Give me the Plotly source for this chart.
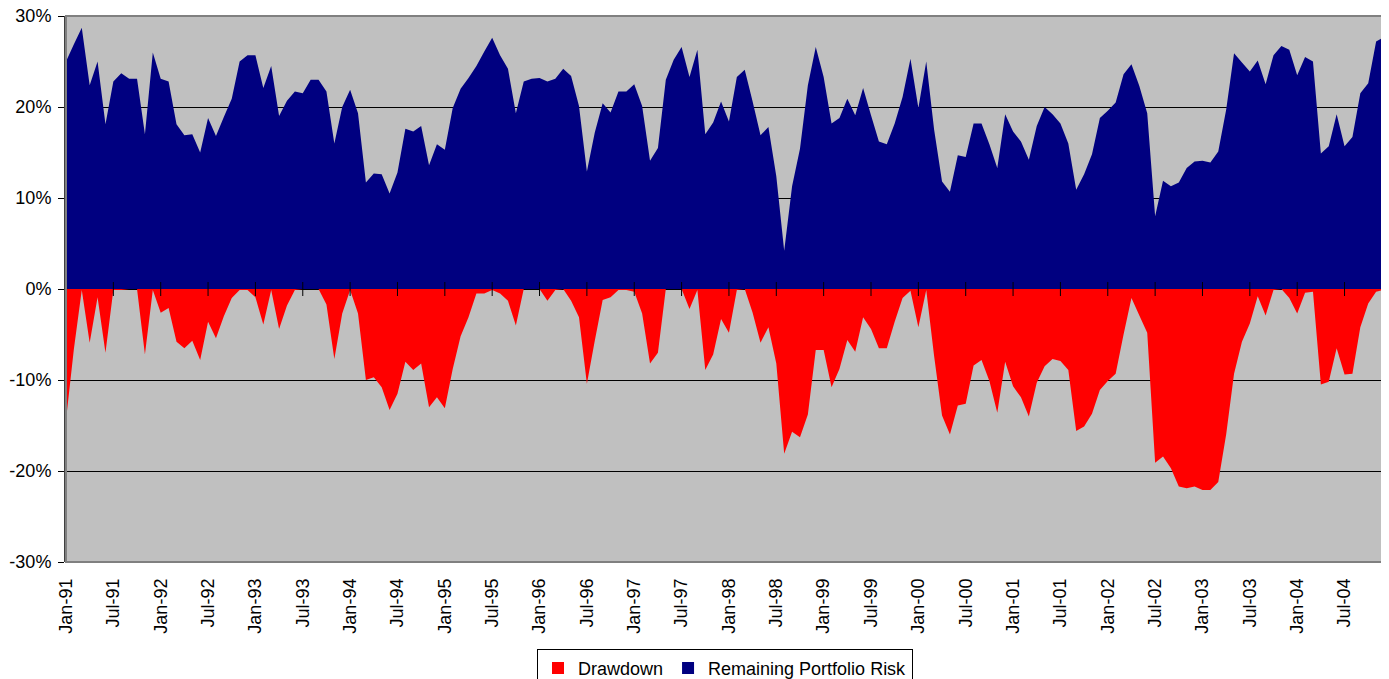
import plotly.graph_objects as go

month_names = ["Jan", "Feb", "Mar", "Apr", "May", "Jun",
               "Jul", "Aug", "Sep", "Oct", "Nov", "Dec"]
years = ["91", "92", "93", "94", "95", "96", "97",
         "98", "99", "00", "01", "02", "03", "04"]
categories = [f"{m}-{y}" for y in years for m in month_names]
tick_labels = categories[::6]

drawdown = [
    -14.4, -6.6, -0.1, -5.9, -0.9, -7.0, -0.1, -0.1, 0.0, 0.0, -7.2, -0.1,
    -2.6, -2.1, -5.8, -6.5, -5.7, -7.8, -3.6, -5.4, -3.0, -1.0, -0.1, -0.1,
    -0.9, -3.9, -0.1, -4.4, -1.8, -0.1, 0.0, 0.0, 0.0, -1.7, -7.7, -2.7,
    -0.1, -2.7, -10.0, -9.7, -10.8, -13.3, -11.5, -8.0, -8.9, -8.2, -13.0, -11.9,
    -13.1, -8.8, -5.2, -3.1, -0.5, -0.5, -0.1, -0.5, -1.3, -4.0, 0.0, 0.0,
    0.0, -1.3, -0.1, 0.0, -1.3, -3.1, -10.4, -5.7, -1.2, -0.9, -0.1, -0.1,
    -0.3, -2.7, -8.2, -7.0, 0.0, 0.0, 0.0, -2.2, -0.1, -8.9, -7.2, -3.3,
    -4.8, -0.1, 0.0, -2.6, -5.9, -4.2, -8.2, -18.1, -15.7, -16.3, -13.8, -6.7,
    -6.7, -10.8, -8.8, -5.6, -6.9, -3.1, -4.4, -6.5, -6.5, -3.6, -1.0, -0.2,
    -4.2, -0.1, -7.4, -13.9, -16.0, -12.8, -12.6, -8.4, -7.8, -10.1, -13.6, -8.0,
    -10.7, -11.9, -14.0, -10.3, -8.5, -7.7, -7.9, -8.9, -15.6, -15.1, -13.7, -11.1,
    -10.1, -9.3, -5.0, -1.0, -2.9, -4.8, -19.1, -18.4, -19.7, -21.7, -21.9, -21.7,
    -22.1, -22.1, -21.2, -16.0, -9.3, -5.8, -3.8, -0.8, -2.9, -0.1, 0.0, -1.0,
    -2.7, -0.4, -0.3, -10.5, -10.2, -6.5, -9.4, -9.3, -4.2, -1.6, -0.3, -0.1,
]

remaining_risk = [
    25.0, 26.9, 28.7, 22.4, 25.0, 18.1, 22.8, 23.7, 23.1, 23.1, 17.0, 26.0,
    23.1, 22.8, 18.1, 16.9, 17.0, 15.0, 18.8, 16.8, 18.9, 20.9, 25.0, 25.7,
    25.7, 22.1, 24.5, 19.0, 20.7, 21.7, 21.5, 23.0, 23.0, 21.7, 16.0, 20.0,
    21.9, 19.3, 11.7, 12.7, 12.6, 10.5, 12.8, 17.6, 17.3, 17.9, 13.6, 15.9,
    15.3, 19.9, 22.0, 23.2, 24.5, 26.1, 27.6, 25.7, 24.2, 19.3, 22.8, 23.1,
    23.2, 22.8, 23.1, 24.2, 23.4, 20.1, 12.9, 17.2, 20.4, 19.4, 21.7, 21.7,
    22.5, 20.1, 14.1, 15.5, 23.0, 25.2, 26.6, 23.3, 26.3, 17.0, 18.3, 20.6,
    18.4, 23.3, 24.1, 20.6, 16.9, 17.8, 12.4, 4.2, 11.3, 15.4, 22.4, 26.6,
    23.3, 18.2, 18.8, 20.9, 19.1, 22.1, 19.1, 16.2, 15.9, 18.2, 21.1, 25.3,
    19.9, 25.0, 17.5, 11.8, 10.7, 14.7, 14.5, 18.2, 18.2, 15.9, 13.3, 19.2,
    17.3, 16.2, 14.2, 17.9, 20.0, 19.2, 18.2, 16.0, 10.9, 12.6, 14.8, 18.8,
    19.6, 20.5, 23.6, 24.7, 22.3, 19.3, 8.0, 11.9, 11.3, 11.7, 13.3, 14.0,
    14.1, 13.9, 15.1, 19.7, 25.9, 24.9, 23.9, 25.1, 22.5, 25.7, 26.7, 26.3,
    23.5, 25.5, 25.0, 14.9, 15.7, 19.2, 15.7, 16.7, 21.5, 22.6, 27.2, 27.7,
]

y_ticks = [30, 20, 10, 0, -10, -20, -30]
y_tick_text = ["30%", "20%", "10%", "0%", "-10%", "-20%", "-30%"]

RED = "#FF0000"
NAVY = "#000080"
FONT = "Arial, 'Liberation Sans', sans-serif"

fig = go.Figure()
fig.add_trace(go.Scatter(
    x=categories, y=drawdown, name="Drawdown", showlegend=False,
    mode="none", fill="tozeroy", fillcolor=RED,
))
fig.add_trace(go.Scatter(
    x=categories, y=remaining_risk, name="Remaining Portfolio Risk",
    showlegend=False, mode="none", fill="tozeroy", fillcolor=NAVY,
))
# category-axis tick marks sitting on the zero line (Excel style)
fig.add_trace(go.Scatter(
    x=tick_labels, y=[0] * len(tick_labels), mode="markers",
    marker=dict(symbol="line-ns", size=10, line=dict(color="black", width=1)),
    showlegend=False, hoverinfo="skip",
))
# legend entries with square swatches
fig.add_trace(go.Scatter(
    x=[None], y=[None], mode="markers", name="Drawdown",
    marker=dict(symbol="square", size=12, color=RED),
))
fig.add_trace(go.Scatter(
    x=[None], y=[None], mode="markers", name="Remaining Portfolio Risk",
    marker=dict(symbol="square", size=12, color=NAVY),
))

fig.update_layout(
    width=1381, height=700,
    margin=dict(l=58, r=5, t=8, b=146),
    paper_bgcolor="white",
    plot_bgcolor="#C0C0C0",
    font=dict(family=FONT, size=18, color="black"),
    showlegend=True,
    legend=dict(
        orientation="h", x=0.5, xanchor="center", y=-0.159, yanchor="top",
        bordercolor="black", borderwidth=1, bgcolor="white",
        font=dict(family=FONT, size=18, color="black"),
        itemwidth=30, tracegroupgap=0,
    ),
    xaxis=dict(
        type="category", range=[0, len(categories) - 1],
        tickmode="array", tickvals=tick_labels, ticktext=tick_labels,
        tickangle=-90, showgrid=False, zeroline=False,
        showline=False, ticks="", tickfont=dict(size=18),
        ticklabelstandoff=12, automargin=False,
    ),
    yaxis=dict(
        range=[-30, 30], tickmode="array", tickvals=y_ticks, ticktext=y_tick_text,
        showgrid=True, gridcolor="black", gridwidth=1,
        zeroline=True, zerolinecolor="black", zerolinewidth=1,
        showline=True, linecolor="#404040", linewidth=2,
        ticks="outside", ticklen=6, tickcolor="black",
        tickfont=dict(size=18), ticklabeloverflow="allow",
        ticklabelstandoff=3, automargin=False,
    ),
    shapes=[dict(type="rect", xref="paper", yref="paper", x0=0, x1=1, y0=0, y1=1,
                 line=dict(color="#808080", width=2), layer="above")],
)

fig.write_html("out.html")
